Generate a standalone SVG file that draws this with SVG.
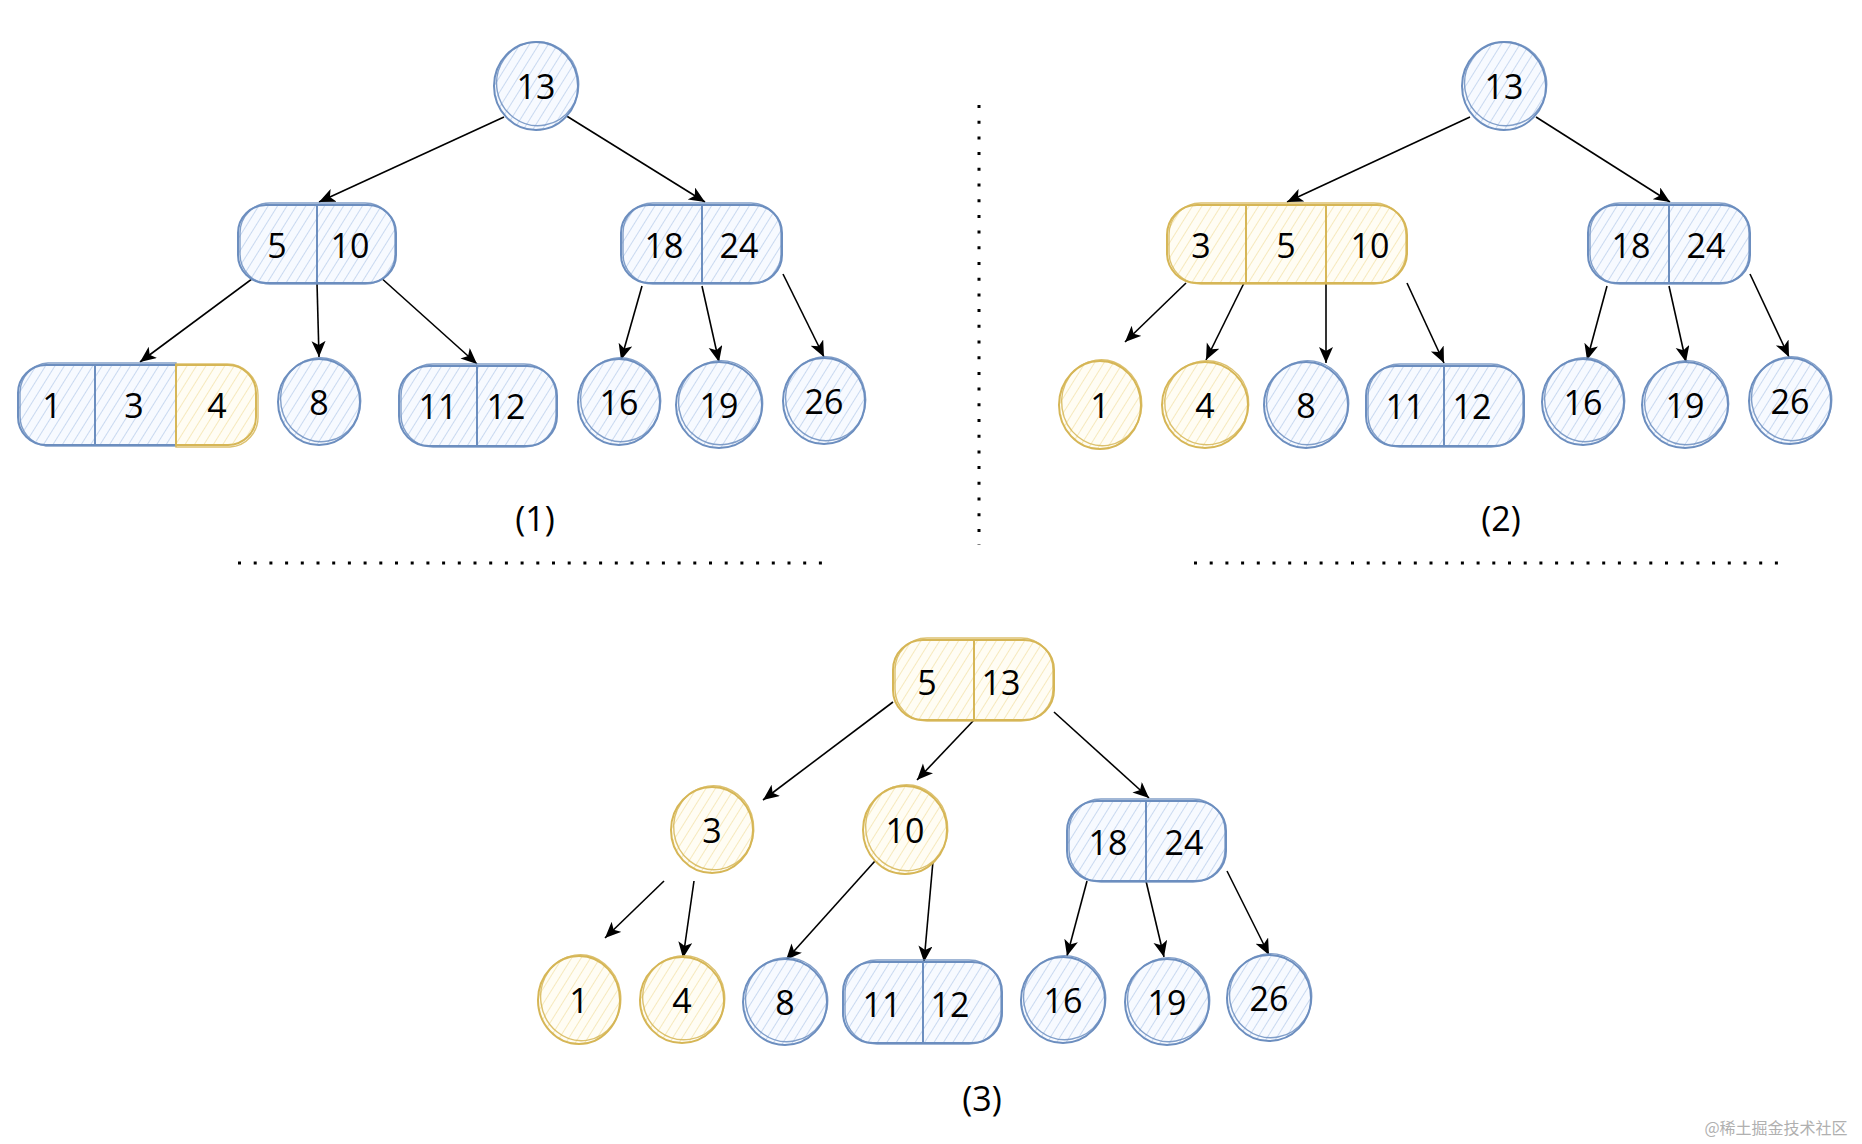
<svg xmlns="http://www.w3.org/2000/svg" width="1862" height="1144" viewBox="0 0 1862 1144">
<defs>
<pattern id="hb" patternUnits="userSpaceOnUse" width="8" height="8" patternTransform="rotate(32)">
<rect width="8" height="8" fill="#f7faff"/>
<line x1="0" y1="0" x2="0" y2="8" stroke="#c9d9f0" stroke-width="2"/>
</pattern>
<pattern id="hy" patternUnits="userSpaceOnUse" width="8" height="8" patternTransform="rotate(32)">
<rect width="8" height="8" fill="#fffdf4"/>
<line x1="0" y1="0" x2="0" y2="8" stroke="#f6e9bd" stroke-width="2"/>
</pattern>
<marker id="ah" markerUnits="userSpaceOnUse" markerWidth="18" markerHeight="16" refX="16" refY="7" orient="auto">
<path d="M0,0 L16,7 L0,14 L4,7 Z" fill="#000"/>
</marker>
<style>
.b{fill:url(#hb);stroke:#6c8ebf;stroke-width:2}
.b2{fill:none;stroke:#6c8ebf;stroke-width:1.4;opacity:.85}
.y{fill:url(#hy);stroke:#d6b656;stroke-width:2}
.y2{fill:none;stroke:#d6b656;stroke-width:1.4;opacity:.85}
.bl{stroke:#6c8ebf;stroke-width:2}
.yl{stroke:#d6b656;stroke-width:2}
.t{font-family:"Open Sans","Liberation Sans",sans-serif;font-size:34px;font-weight:500;fill:#000;text-anchor:middle;dominant-baseline:central}
.e{stroke:#000;stroke-width:1.6;fill:none;marker-end:url(#ah)}
.dot{stroke:#000;stroke-width:3;stroke-dasharray:3 12.7;fill:none}
.wm{font-family:"Noto Sans CJK SC","Liberation Sans",sans-serif;font-size:16px;fill:#b0b0b0;text-anchor:middle;dominant-baseline:central}
</style>
</defs>
<rect width="1862" height="1144" fill="#fff"/>

<g id="separators">
<line class="dot" x1="979" y1="105" x2="979" y2="545"/>
<line class="dot" x1="238" y1="563" x2="822" y2="563"/>
<line class="dot" x1="1194" y1="563" x2="1778" y2="563"/>
</g>

<g id="connectors">
<line class="e" x1="504" y1="117" x2="319" y2="202"/>
<line class="e" x1="565" y1="115" x2="705" y2="202"/>
<line class="e" x1="256" y1="276" x2="140" y2="362"/>
<line class="e" x1="317" y1="283" x2="319" y2="357"/>
<line class="e" x1="379" y1="276" x2="477" y2="364"/>
<line class="e" x1="642" y1="286" x2="621" y2="360"/>
<line class="e" x1="702" y1="286" x2="719" y2="362"/>
<line class="e" x1="783" y1="274" x2="824" y2="357"/>

<line class="e" x1="1470" y1="117" x2="1287" y2="202"/>
<line class="e" x1="1536" y1="117" x2="1670" y2="202"/>
<line class="e" x1="1186" y1="283" x2="1125" y2="342"/>
<line class="e" x1="1244" y1="283" x2="1206" y2="360"/>
<line class="e" x1="1326" y1="283" x2="1326" y2="363"/>
<line class="e" x1="1407" y1="283" x2="1444" y2="363"/>
<line class="e" x1="1607" y1="286" x2="1587" y2="360"/>
<line class="e" x1="1669" y1="286" x2="1686" y2="362"/>
<line class="e" x1="1750" y1="274" x2="1789" y2="357"/>

<line class="e" x1="893" y1="702" x2="763" y2="800"/>
<line class="e" x1="974" y1="720" x2="917" y2="780"/>
<line class="e" x1="1054" y1="712" x2="1149" y2="798"/>
<line class="e" x1="664" y1="881" x2="605" y2="938"/>
<line class="e" x1="694" y1="881" x2="683" y2="958"/>
<line class="e" x1="875" y1="861" x2="786" y2="960"/>
<line class="e" x1="933" y1="861" x2="924" y2="962"/>
<line class="e" x1="1087" y1="881" x2="1067" y2="956"/>
<line class="e" x1="1146" y1="881" x2="1164" y2="957"/>
<line class="e" x1="1227" y1="871" x2="1269" y2="955"/>
</g>

<!-- Panel 1 -->
<g id="p1-n13">
<ellipse class="b" cx="536" cy="86" rx="42" ry="44"/>
<ellipse class="b2" cx="538" cy="84" rx="41" ry="42" transform="rotate(-10 536 86)"/>
<text class="t" x="536" y="86">13</text>
</g>
<g id="p1-n5-10">
<rect class="b" x="238" y="205" width="158" height="78" rx="28"/>
<rect class="b2" x="240" y="203" width="155" height="81" rx="30"/>
<line class="bl" x1="317" y1="205" x2="317" y2="283"/>
<text class="t" x="277" y="245">5</text>
<text class="t" x="350" y="245">10</text>
</g>
<g id="p1-n18-24">
<rect class="b" x="621" y="205" width="161" height="78" rx="28"/>
<rect class="b2" x="623" y="203" width="158" height="81" rx="30"/>
<line class="bl" x1="702" y1="205" x2="702" y2="283"/>
<text class="t" x="664" y="245">18</text>
<text class="t" x="739" y="245">24</text>
</g>
<g id="p1-n1-3-4">
<path class="b" d="M46,365 H176 V445 H46 A28,28 0 0 1 18,417 V393 A28,28 0 0 1 46,365 Z"/>
<path class="b2" d="M48,363 H176 V446 H46 A30,30 0 0 1 20,416 V392 A30,30 0 0 1 48,363 Z"/>
<path class="y" d="M176,365 H228 A28,28 0 0 1 256,393 V417 A28,28 0 0 1 228,445 H176 Z"/>
<path class="y2" d="M176,364 H226 A31,31 0 0 1 258,395 V416 A30,30 0 0 1 230,447 H176 Z"/>
<line class="bl" x1="95" y1="365" x2="95" y2="445"/>
<line class="yl" x1="176" y1="365" x2="176" y2="445"/>
<text class="t" x="52" y="405">1</text>
<text class="t" x="134" y="405">3</text>
<text class="t" x="217" y="405">4</text>
</g>
<g id="p1-n8">
<ellipse class="b" cx="319" cy="402" rx="41" ry="43"/>
<ellipse class="b2" cx="321" cy="400" rx="40" ry="42" transform="rotate(-10 319 402)"/>
<text class="t" x="319" y="402">8</text>
</g>
<g id="p1-n11-12">
<rect class="b" x="399" y="366" width="158" height="80" rx="30"/>
<rect class="b2" x="401" y="364" width="155" height="83" rx="32"/>
<line class="bl" x1="477" y1="366" x2="477" y2="446"/>
<text class="t" x="438" y="406">11</text>
<text class="t" x="506" y="406">12</text>
</g>
<g id="p1-n16">
<ellipse class="b" cx="619" cy="402" rx="41" ry="43"/>
<ellipse class="b2" cx="621" cy="400" rx="40" ry="42" transform="rotate(-10 619 402)"/>
<text class="t" x="619" y="402">16</text>
</g>
<g id="p1-n19">
<ellipse class="b" cx="719" cy="405" rx="43" ry="43"/>
<ellipse class="b2" cx="721" cy="403" rx="42" ry="42" transform="rotate(-10 719 405)"/>
<text class="t" x="719" y="405">19</text>
</g>
<g id="p1-n26">
<ellipse class="b" cx="824" cy="401" rx="41" ry="43"/>
<ellipse class="b2" cx="826" cy="399" rx="40" ry="42" transform="rotate(-10 824 401)"/>
<text class="t" x="824" y="401">26</text>
</g>
<text class="t" x="535" y="518">(1)</text>

<!-- Panel 2 -->
<g id="p2-n13">
<ellipse class="b" cx="1504" cy="86" rx="42" ry="44"/>
<ellipse class="b2" cx="1506" cy="84" rx="41" ry="42" transform="rotate(-10 1504 86)"/>
<text class="t" x="1504" y="86">13</text>
</g>
<g id="p2-n3-5-10">
<rect class="y" x="1167" y="205" width="240" height="78" rx="30"/>
<rect class="y2" x="1169" y="203" width="237" height="81" rx="32"/>
<line class="yl" x1="1246" y1="205" x2="1246" y2="283"/>
<line class="yl" x1="1326" y1="205" x2="1326" y2="283"/>
<text class="t" x="1201" y="245">3</text>
<text class="t" x="1286" y="245">5</text>
<text class="t" x="1370" y="245">10</text>
</g>
<g id="p2-n18-24">
<rect class="b" x="1588" y="205" width="162" height="78" rx="28"/>
<rect class="b2" x="1590" y="203" width="159" height="81" rx="30"/>
<line class="bl" x1="1669" y1="205" x2="1669" y2="283"/>
<text class="t" x="1631" y="245">18</text>
<text class="t" x="1706" y="245">24</text>
</g>
<g id="p2-n1">
<ellipse class="y" cx="1100" cy="405" rx="41" ry="44"/>
<ellipse class="y2" cx="1102" cy="403" rx="40" ry="43" transform="rotate(-8 1100 405)"/>
<text class="t" x="1100" y="405">1</text>
</g>
<g id="p2-n4">
<ellipse class="y" cx="1205" cy="405" rx="43" ry="43"/>
<ellipse class="y2" cx="1207" cy="403" rx="42" ry="42" transform="rotate(-8 1205 405)"/>
<text class="t" x="1205" y="405">4</text>
</g>
<g id="p2-n8">
<ellipse class="b" cx="1306" cy="405" rx="42" ry="43"/>
<ellipse class="b2" cx="1308" cy="403" rx="41" ry="42" transform="rotate(-10 1306 405)"/>
<text class="t" x="1306" y="405">8</text>
</g>
<g id="p2-n11-12">
<rect class="b" x="1366" y="366" width="158" height="80" rx="30"/>
<rect class="b2" x="1368" y="364" width="155" height="83" rx="32"/>
<line class="bl" x1="1444" y1="366" x2="1444" y2="446"/>
<text class="t" x="1405" y="406">11</text>
<text class="t" x="1472" y="406">12</text>
</g>
<g id="p2-n16">
<ellipse class="b" cx="1583" cy="402" rx="41" ry="43"/>
<ellipse class="b2" cx="1585" cy="400" rx="40" ry="42" transform="rotate(-10 1583 402)"/>
<text class="t" x="1583" y="402">16</text>
</g>
<g id="p2-n19">
<ellipse class="b" cx="1685" cy="405" rx="43" ry="43"/>
<ellipse class="b2" cx="1687" cy="403" rx="42" ry="42" transform="rotate(-10 1685 405)"/>
<text class="t" x="1685" y="405">19</text>
</g>
<g id="p2-n26">
<ellipse class="b" cx="1790" cy="401" rx="41" ry="43"/>
<ellipse class="b2" cx="1792" cy="399" rx="40" ry="42" transform="rotate(-10 1790 401)"/>
<text class="t" x="1790" y="401">26</text>
</g>
<text class="t" x="1501" y="518">(2)</text>

<!-- Panel 3 -->
<g id="p3-n5-13">
<rect class="y" x="893" y="640" width="161" height="80" rx="30"/>
<rect class="y2" x="895" y="638" width="158" height="83" rx="32"/>
<line class="yl" x1="974" y1="640" x2="974" y2="720"/>
<text class="t" x="927" y="682">5</text>
<text class="t" x="1001" y="682">13</text>
</g>
<g id="p3-n3">
<ellipse class="y" cx="712" cy="830" rx="41" ry="43"/>
<ellipse class="y2" cx="714" cy="828" rx="40" ry="42" transform="rotate(-8 712 830)"/>
<text class="t" x="712" y="830">3</text>
</g>
<g id="p3-n10">
<ellipse class="y" cx="905" cy="830" rx="42" ry="44"/>
<ellipse class="y2" cx="907" cy="828" rx="41" ry="43" transform="rotate(-8 905 830)"/>
<text class="t" x="905" y="830">10</text>
</g>
<g id="p3-n18-24">
<rect class="b" x="1067" y="801" width="159" height="80" rx="30"/>
<rect class="b2" x="1069" y="799" width="156" height="83" rx="32"/>
<line class="bl" x1="1146" y1="801" x2="1146" y2="881"/>
<text class="t" x="1108" y="842">18</text>
<text class="t" x="1184" y="842">24</text>
</g>
<g id="p3-n1">
<ellipse class="y" cx="579" cy="1000" rx="41" ry="44"/>
<ellipse class="y2" cx="581" cy="998" rx="40" ry="43" transform="rotate(-8 579 1000)"/>
<text class="t" x="579" y="1000">1</text>
</g>
<g id="p3-n4">
<ellipse class="y" cx="682" cy="1000" rx="42" ry="43"/>
<ellipse class="y2" cx="684" cy="998" rx="41" ry="42" transform="rotate(-8 682 1000)"/>
<text class="t" x="682" y="1000">4</text>
</g>
<g id="p3-n8">
<ellipse class="b" cx="785" cy="1002" rx="42" ry="43"/>
<ellipse class="b2" cx="787" cy="1000" rx="41" ry="42" transform="rotate(-10 785 1002)"/>
<text class="t" x="785" y="1002">8</text>
</g>
<g id="p3-n11-12">
<rect class="b" x="843" y="962" width="159" height="81" rx="30"/>
<rect class="b2" x="845" y="960" width="156" height="84" rx="32"/>
<line class="bl" x1="923" y1="962" x2="923" y2="1043"/>
<text class="t" x="882" y="1004">11</text>
<text class="t" x="950" y="1004">12</text>
</g>
<g id="p3-n16">
<ellipse class="b" cx="1063" cy="1000" rx="42" ry="43"/>
<ellipse class="b2" cx="1065" cy="998" rx="41" ry="42" transform="rotate(-10 1063 1000)"/>
<text class="t" x="1063" y="1000">16</text>
</g>
<g id="p3-n19">
<ellipse class="b" cx="1167" cy="1002" rx="42" ry="43"/>
<ellipse class="b2" cx="1169" cy="1000" rx="41" ry="42" transform="rotate(-10 1167 1002)"/>
<text class="t" x="1167" y="1002">19</text>
</g>
<g id="p3-n26">
<ellipse class="b" cx="1269" cy="998" rx="42" ry="43"/>
<ellipse class="b2" cx="1271" cy="996" rx="41" ry="42" transform="rotate(-10 1269 998)"/>
<text class="t" x="1269" y="998">26</text>
</g>
<text class="t" x="982" y="1098">(3)</text>

<text class="wm" x="1776" y="1127">@稀土掘金技术社区</text>
</svg>
